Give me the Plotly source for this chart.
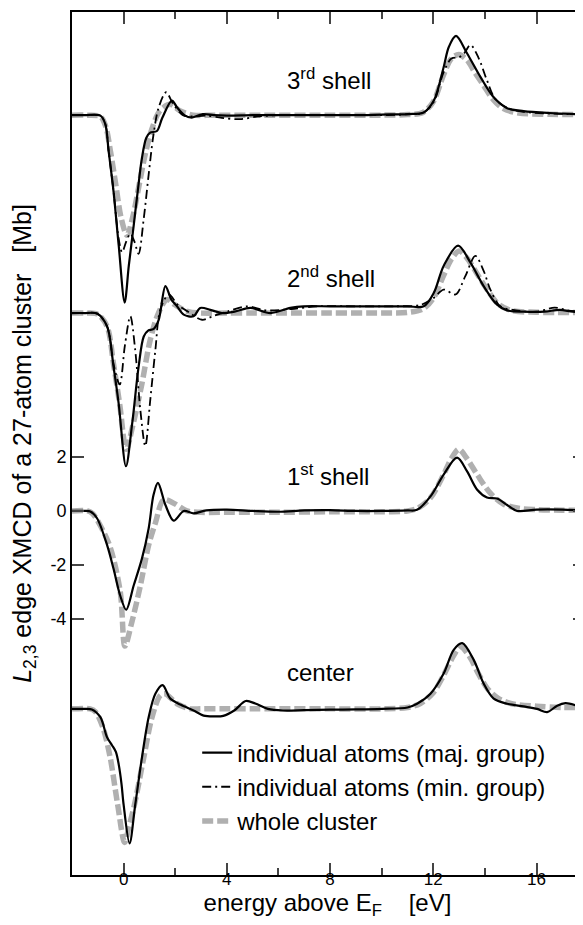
import plotly.graph_objects as go

# ---------------- data (values relative to each shell's baseline, in Mb) ----------------
shell_labels = ["center", "1<sup>st</sup> shell", "2<sup>nd</sup> shell", "3<sup>rd</sup> shell"]
shell_offsets = [-7.35, 0.0, 7.35, 14.7]

# center
e_c_maj = [-2, -1.5, -1.23, -0.9, -0.64, -0.45, -0.3, -0.19, -0.08, 0.0, 0.23, 0.45, 0.71, 0.97, 1.23,
           1.51, 1.81, 2.2, 2.71, 3.1, 3.5, 3.86, 4.3, 4.73, 5.1, 5.59, 6.17, 7, 8, 9, 10, 11, 11.37,
           11.89, 12.4, 12.79, 13.12, 13.57, 13.95, 14.34, 14.86, 15.5, 16.02, 16.41, 16.8, 17.12, 17.57, 17.8]
v_c_maj = [0, 0, -0.02, -0.31, -1.06, -1.35, -1.6, -2.06, -2.8, -3.56, -5.0, -3.56, -1.81, -0.31, 0.56,
           0.88, 0.38, 0.16, -0.06, -0.25, -0.28, -0.26, -0.05, 0.29, 0.2, 0.0, -0.06, -0.05, -0.03, -0.02,
           0.0, 0.05, 0.19, 0.56, 1.31, 2.19, 2.44, 1.81, 0.94, 0.38, 0.19, 0.09, 0.0, -0.12, 0.12, 0.21, 0.12, 0.05]
e_c_all = [-2, -1.3, -1.1, -0.8, -0.52, -0.23, 0.04, 0.2, 0.42, 0.78, 1.1, 1.42, 1.61, 2.07, 2.6, 3, 4,
           5, 6, 8, 10, 11, 11.5, 12, 12.4, 12.8, 13.05, 13.4, 13.75, 14.1, 14.5, 15, 16, 17, 17.8]
v_c_all = [0, 0, -0.1, -0.7, -1.81, -3.56, -4.96, -4.4, -3.56, -1.81, -0.31, 0.5, 0.56, 0.19, 0.0, 0.0,
           0.0, 0.0, 0.0, 0.0, 0.0, 0.05, 0.2, 0.6, 1.25, 2.0, 2.31, 1.95, 1.3, 0.75, 0.4, 0.2, 0.1, 0.05, 0.05]

# 1st shell
e_1_maj = [-2, -1.5, -1.29, -1.03, -0.64, -0.39, -0.13, 0.10, 0.39, 0.71, 0.97, 1.16, 1.33, 1.62, 1.94,
           2.33, 2.71, 3.2, 4, 5, 6, 7, 8, 9, 10, 11, 11.37, 11.89, 12.4, 12.92, 13.31, 13.70, 14.08,
           14.47, 14.86, 15.25, 16, 17, 17.8]
v_1_maj = [0, 0, -0.02, -0.27, -1.27, -2.15, -3.15, -3.67, -2.77, -1.77, -0.65, 0.6, 1.04, 0.22, -0.36,
           0.0, -0.09, 0.02, 0.05, 0.0, -0.03, 0.02, 0.03, 0.0, 0.0, 0.02, 0.04, 0.54, 1.35, 1.98, 1.47,
           0.79, 0.5, 0.46, 0.22, 0.0, 0.05, 0.05, 0.02]
e_1_all = [-2, -1.4, -1.2, -0.9, -0.52, -0.13, 0.05, 0.3, 0.65, 0.97, 1.23, 1.55, 1.94, 2.45, 3, 4, 6,
           8, 10, 11, 11.4, 11.9, 12.4, 12.7, 12.99, 13.3, 13.7, 14.21, 14.73, 15.3, 16, 17, 17.8]
v_1_all = [0, 0, -0.1, -0.55, -1.35, -3.0, -5.02, -4.2, -2.77, -1.27, -0.45, 0.41, 0.29, 0.0, -0.05,
           -0.05, -0.05, -0.03, -0.03, 0.0, 0.1, 0.5, 1.35, 1.95, 2.29, 1.95, 1.35, 0.66, 0.25, 0.1, 0.05, 0.03, 0.02]

# 2nd shell
e_2_maj = [-2, -1.5, -1.03, -0.64, -0.39, -0.19, 0.09, 0.33, 0.58, 0.78, 0.95, 1.15, 1.36, 1.62, 1.85,
           2.07, 2.33, 2.71, 2.97, 3.36, 3.8, 4.3, 4.91, 5.69, 6.46, 6.98, 8, 9, 10, 11, 11.63, 12.02,
           12.4, 12.96, 13.44, 13.95, 14.47, 14.86, 15.5, 16.3, 16.9, 17.4, 17.8]
v_2_maj = [0, 0, -0.02, -0.5, -2.0, -3.37, -5.69, -4.12, -2.0, -0.87, -0.65, -0.6, -0.25, 1.0, 0.5,
           0.25, -0.06, -0.12, 0.19, 0.12, 0.0, 0.05, 0.19, 0.0, 0.19, 0.25, 0.25, 0.25, 0.25, 0.25, 0.25,
           0.75, 1.75, 2.5, 1.87, 1.0, 0.31, 0.1, 0.05, 0.05, 0.12, 0.05, 0.05]
e_2_min = [-2, -1.5, -1.03, -0.64, -0.39, -0.15, 0.05, 0.26, 0.45, 0.65, 0.84, 1.03, 1.23, 1.42, 1.75,
           2.1, 2.5, 3.04, 3.5, 4.0, 4.8, 5.5, 6.5, 7.5, 9, 10.5, 11.5, 12.0, 12.4, 12.86, 13.24, 13.63,
           13.95, 14.21, 14.6, 15.2, 16, 16.7, 17.2, 17.8]
v_2_min = [0, 0, -0.02, -0.5, -1.9, -2.65, -1.2, -0.12, -1.38, -3.62, -4.94, -3.25, -1.38, 0.12, 0.69,
           0.3, 0.05, -0.25, -0.1, 0.05, 0.25, 0.1, 0.15, 0.25, 0.25, 0.25, 0.3, 0.55, 0.87, 0.69, 1.37,
           2.12, 1.57, 0.87, 0.25, 0.1, 0.05, 0.2, 0.1, 0.05]
e_2_all = [-2, -1.4, -1.0, -0.64, -0.39, -0.15, 0.1, 0.35, 0.71, 1.03, 1.35, 1.68, 2.0, 2.5, 3, 4, 5,
           6, 8, 10, 11, 11.6, 12.0, 12.4, 12.7, 13.0, 13.3, 13.7, 14.1, 14.5, 15, 16, 17.8]
v_2_all = [0, 0, -0.05, -0.5, -1.9, -3.4, -5.06, -4.2, -2.62, -1.0, 0.0, 0.5, 0.3, 0.05, 0.0, 0.0,
           0.0, 0.0, 0.0, 0.0, 0.02, 0.15, 0.55, 1.4, 2.0, 2.3, 2.05, 1.45, 0.85, 0.35, 0.1, 0.03, 0.02]

# 3rd shell
e_3_maj = [-2, -1.5, -0.9, -0.71, -0.58, -0.39, -0.19, 0.04, 0.2, 0.39, 0.55, 0.71, 0.88, 1.03, 1.29,
           1.5, 1.87, 2.07, 2.35, 2.64, 3.07, 3.5, 4.0, 5, 6, 7, 8, 9, 10, 11, 11.63, 12.02, 12.4, 12.6,
           12.88, 13.31, 13.83, 14.34, 14.86, 15.5, 16.5, 17.8]
v_3_maj = [0, 0, -0.02, -0.33, -1.34, -2.84, -4.84, -6.96, -5.6, -4.1, -2.8, -1.59, -0.84, -0.65, -0.59,
           -0.1, 0.54, 0.29, 0.0, -0.09, 0.04, 0.0, -0.02, 0.0, 0.0, 0.0, 0.0, 0.0, 0.02, 0.04, 0.1, 0.54,
           1.78, 2.53, 2.94, 2.29, 1.41, 0.66, 0.26, 0.15, 0.08, 0.03]
e_3_min = [-2, -1.5, -0.9, -0.71, -0.58, -0.39, -0.19, -0.06, 0.1, 0.26, 0.42, 0.58, 0.78, 0.97, 1.16,
           1.36, 1.65, 1.9, 2.3, 2.7, 3.2, 3.8, 4.5, 5.2, 6, 8, 10, 11, 11.63, 12.02, 12.4, 12.7, 13.0,
           13.2, 13.44, 13.76, 14.08, 14.4, 14.9, 15.5, 16.5, 17.8]
v_3_min = [0, 0, -0.02, -0.33, -1.34, -2.84, -4.6, -5.09, -4.7, -4.4, -4.7, -5.15, -3.84, -2.21, -0.71,
           0.29, 0.85, 0.45, 0.0, -0.05, -0.02, -0.1, -0.15, -0.05, 0.0, 0.0, 0.0, 0.03, 0.1, 0.5, 1.6,
           2.1, 2.15, 2.3, 2.61, 2.11, 1.29, 0.6, 0.25, 0.12, 0.06, 0.03]
e_3_all = [-2, -1.4, -0.9, -0.7, -0.5, -0.3, -0.1, 0.13, 0.35, 0.6, 0.85, 1.1, 1.4, 1.8, 2.2, 2.7, 3.5,
           5, 8, 10, 11, 11.6, 12.0, 12.4, 12.7, 12.99, 13.3, 13.6, 13.95, 14.3, 14.7, 15.3, 16.5, 17.8]
v_3_all = [0, 0, -0.05, -0.4, -1.4, -2.6, -3.8, -4.46, -3.8, -2.6, -1.4, -0.5, 0.15, 0.4, 0.15, 0.0,
           0.0, 0.0, 0.0, 0.0, 0.02, 0.1, 0.5, 1.5, 2.1, 2.25, 2.05, 1.6, 1.1, 0.6, 0.25, 0.08, 0.03, 0.02]

x_ticks = [0, 4, 8, 12, 16]
y_ticks = [2, 0, -2, -4]
y_ticktext = ["2", "0", "-2", "-4"]
legend_names = ["individual atoms (maj. group)", "individual atoms (min. group)", "whole cluster"]

# ---------------- figure ----------------
FONT = "Liberation Sans, Arial, Helvetica, sans-serif"
GREY = "#b0b0b0"

whole = [(e_c_all, v_c_all, 0), (e_1_all, v_1_all, 1), (e_2_all, v_2_all, 2), (e_3_all, v_3_all, 3)]
minor = [(e_2_min, v_2_min, 2), (e_3_min, v_3_min, 3)]
major = [(e_c_maj, v_c_maj, 0), (e_1_maj, v_1_maj, 1), (e_2_maj, v_2_maj, 2), (e_3_maj, v_3_maj, 3)]

fig = go.Figure()
for i, (e, v, k) in enumerate(whole):
    fig.add_trace(go.Scatter(x=e, y=[val + shell_offsets[k] for val in v], mode="lines",
                             line=dict(color=GREY, width=5.5, dash="11px,4px", shape="spline", smoothing=0.9),
                             name=legend_names[2], showlegend=(i == 0), legendrank=3))
for i, (e, v, k) in enumerate(minor):
    fig.add_trace(go.Scatter(x=e, y=[val + shell_offsets[k] for val in v], mode="lines",
                             line=dict(color="black", width=1.8, dash="9px,4px,2px,4px", shape="spline", smoothing=0.9),
                             name=legend_names[1], showlegend=(i == 0), legendrank=2))
for i, (e, v, k) in enumerate(major):
    fig.add_trace(go.Scatter(x=e, y=[val + shell_offsets[k] for val in v], mode="lines",
                             line=dict(color="black", width=2.2, shape="spline", smoothing=0.9),
                             name=legend_names[0], showlegend=(i == 0), legendrank=1))

# invisible trace on the right axis, for the mirrored y ticks without a frame line
fig.add_trace(go.Scatter(x=[None], y=[None], yaxis="y2", showlegend=False, hoverinfo="skip"))

for k, lab in enumerate(shell_labels):
    fig.add_annotation(x=6.25, y=shell_offsets[k] + 1.35, text=lab, showarrow=False,
                       xanchor="left", yanchor="middle", font=dict(family=FONT, size=24, color="black"))

yr = [-13.52, 18.53]
# page body keeps an 8px margin, so the figure is 8px smaller and margins shifted accordingly
fig.update_layout(
    width=575, height=917,
    margin=dict(l=64, r=0, t=4, b=50, autoexpand=False),
    paper_bgcolor="white", plot_bgcolor="white",
    font=dict(family=FONT, color="black"),
    xaxis=dict(range=[-2, 17.8], tickvals=x_ticks, ticks="inside", ticklen=12, tickwidth=1.5,
               showline=True, linecolor="black", linewidth=2, mirror="ticks", showgrid=False, zeroline=False,
               automargin=False, tickfont=dict(size=17), ticklabelstandoff=-12,
               minor=dict(tickvals=[2, 6, 10, 14], ticks="inside", ticklen=7, tickwidth=1.5),
               title=dict(text="energy above E<sub>F</sub>\u00a0\u00a0\u00a0\u00a0[eV]", font=dict(size=24), standoff=4)),
    yaxis=dict(range=yr, tickvals=y_ticks, ticktext=y_ticktext, ticks="inside", ticklen=12, tickwidth=1.5,
               showline=True, linecolor="black", linewidth=2, mirror=False, showgrid=False, zeroline=False,
               automargin=False, tickfont=dict(size=18),
               title=dict(text="<i>L</i><sub>2,3</sub> edge XMCD of a 27-atom cluster\u00a0\u00a0\u00a0[Mb]",
                          font=dict(size=25), standoff=14)),
    yaxis2=dict(range=yr, overlaying="y", side="right", tickvals=y_ticks, ticks="inside", ticklen=10,
                tickwidth=1.5, showticklabels=False, showline=False, showgrid=False, zeroline=False,
                automargin=False),
    legend=dict(x=0.245, y=0.102, xanchor="left", yanchor="middle", bgcolor="rgba(0,0,0,0)",
                font=dict(size=24), tracegroupgap=0, traceorder="normal"),
    showlegend=True,
)

fig.write_html("out.html")
